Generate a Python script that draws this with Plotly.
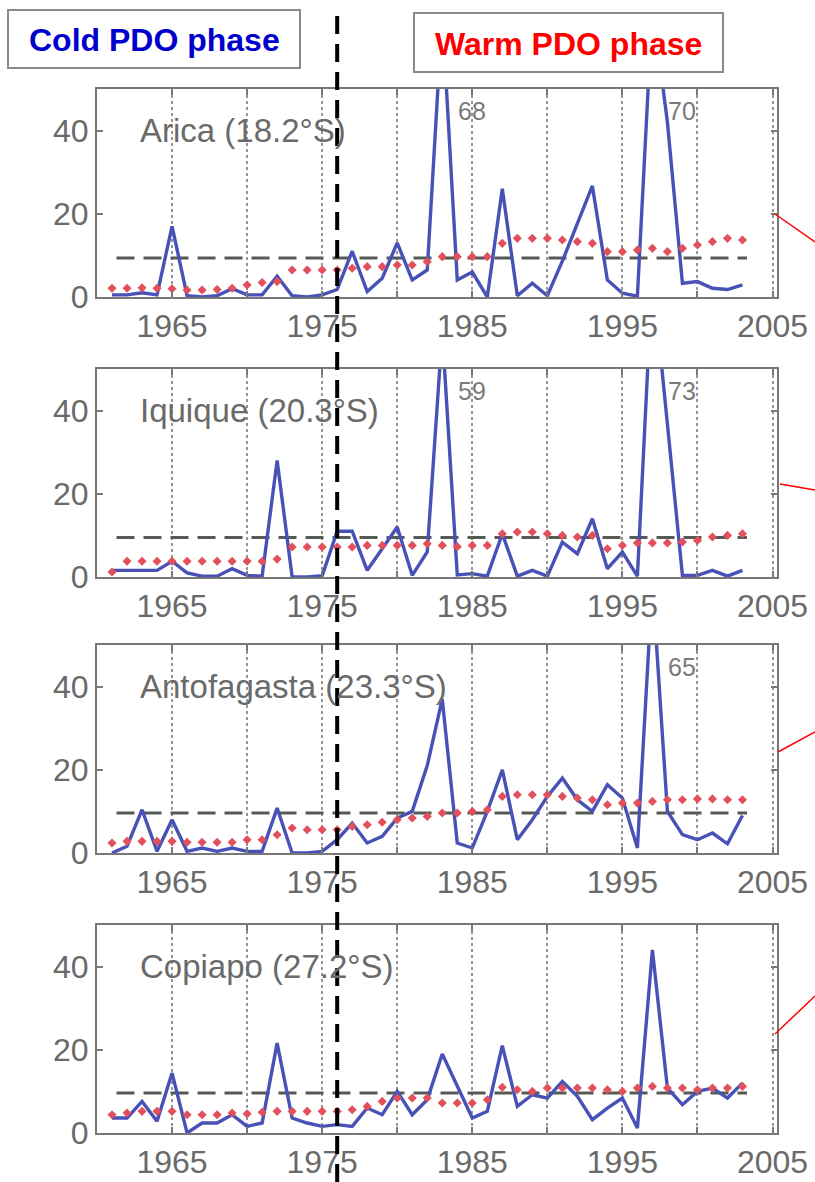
import plotly.graph_objects as go

# ---------------------------------------------------------------- data
years = list(range(1961, 2004))

stations = ["Arica (18.2°S)", "Iquique (20.3°S)", "Antofagasta (23.3°S)", "Copiapo (27.2°S)"]

annual_arica = [0.5, 0.5, 1.0, 0.5, 17, 0.3, 0, 0.3, 2.0, 0.5,
                0.5, 5.0, 0.3, 0, 0.5, 1.8, 11, 1.3, 4.5, 13,
                4.1, 6.5, 68, 4.1, 6.0, 0, 26, 0.3, 3.3, 0.3,
                8.6, 17.5, 26.7, 4.1, 0.9, 0.2, 70, 42, 3.3, 3.7,
                2.1, 1.8, 2.9]
annual_iquique = [1.6, 1.6, 1.6, 1.6, 3.8, 1.0, 0.2, 0.2, 2.0, 0.4,
                  0.2, 28, 0, 0, 0.3, 11, 11, 1.6, 6.8, 12,
                  0.4, 6, 59, 0.5, 0.8, 0.2, 10.4, 0.2, 1.6, 0.2,
                  8.4, 5.6, 14, 2.0, 6.0, 0.2, 73, 37, 0.4, 0.4,
                  1.6, 0.2, 1.6]
annual_antofagasta = [0, 1.6, 10.4, 0.4, 8, 0.4, 1.2, 0.4, 1.2, 0.4,
                      0.4, 10.8, 0, 0, 0.4, 3.2, 7.2, 2.4, 4.0, 8.4,
                      10, 21, 37, 2.4, 1.2, 10, 20, 3.2, 8, 13.6,
                      18, 12.8, 10, 16.4, 13.2, 1.2, 65, 10, 4.4, 3.2,
                      4.8, 2.2, 9]
annual_copiapo = [3.6, 3.6, 7.6, 2.8, 14.4, 0, 2.4, 2.4, 4.4, 1.6,
                  2.4, 21.6, 3.6, 2.4, 1.6, 2.0, 1.6, 6, 4.4, 10,
                  4.4, 8, 19, 11.5, 3.6, 5.2, 21, 6.4, 9.2, 8.4,
                  12.4, 8.8, 3.2, 6, 8.4, 1.2, 44, 10.8, 6.8, 10,
                  10.8, 8.4, 12]

running_arica = [2.1, 2.1, 2.2, 2.1, 2.0, 1.7, 1.7, 1.8, 2.1, 2.9,
                 3.5, 3.7, 6.5, 6.5, 6.5, 6.5, 6.9, 7.3, 7.3, 7.7,
                 7.7, 8.5, 9.7, 9.7, 9.7, 9.7, 12.9, 14.1, 14.1, 14.1,
                 13.7, 13.3, 12.9, 10.9, 10.9, 11.3, 11.7, 10.9, 11.7, 12.5,
                 13.3, 14.1, 13.7]
running_iquique = [1.2, 3.8, 3.8, 3.8, 3.8, 3.8, 3.8, 3.8, 3.8, 3.8,
                   3.8, 4.3, 7.2, 7.2, 7.2, 7.2, 7.2, 7.6, 7.6, 7.6,
                   7.6, 8.0, 7.6, 7.3, 7.6, 7.6, 10.4, 10.8, 10.8, 10.4,
                   10.0, 9.6, 10.0, 6.8, 7.6, 8.2, 8.2, 8.2, 8.4, 8.8,
                   9.6, 10.0, 10.4]
running_antofagasta = [2.4, 2.8, 2.8, 2.8, 2.8, 2.6, 2.6, 2.6, 2.6, 3.2,
                       3.2, 4.4, 6.0, 5.6, 5.6, 5.6, 6.4, 6.8, 7.4, 8.0,
                       8.4, 8.8, 9.6, 9.6, 10, 10.4, 13.6, 14, 14, 14,
                       13.6, 13.2, 12.8, 11.6, 12.0, 12.0, 12.4, 12.8, 12.8, 13.0,
                       13.0, 12.8, 12.8]
running_copiapo = [4.4, 4.8, 5.2, 5.2, 5.2, 4.4, 4.4, 4.4, 4.8, 4.6,
                   5.0, 5.2, 5.2, 5.2, 5.2, 5.2, 5.6, 6.4, 7.6, 8.4,
                   8.4, 8.4, 7.2, 7.2, 7.2, 8.0, 11.0, 10.4, 10.0, 10.8,
                   10.8, 10.8, 10.8, 10.4, 10.0, 10.8, 11.2, 10.8, 10.8, 10.4,
                   10.8, 10.8, 11.2]

mean_levels = [9.4, 9.5, 9.6, 9.6]
mean_span = [1961.3, 2003.3]

x_tickvals = [1965, 1970, 1975, 1980, 1985, 1990, 1995, 2000, 2005]
x_ticktext = ["1965", "", "1975", "", "1985", "", "1995", "", "2005"]
y_tickvals = [0, 20, 40]
y_ticktext = ["0", "20", "40"]

phase_labels = ["Cold PDO phase", "Warm PDO phase"]
regime_shift_year = 1976

annual = [annual_arica, annual_iquique, annual_antofagasta, annual_copiapo]
running = [running_arica, running_iquique, running_antofagasta, running_copiapo]

# ---------------------------------------------------------------- layout geometry
W, H = 815, 1182
X_RANGE = [1960, 2005.3]
Y_RANGE = [0, 50]
x_px = (97, 777)
panel_px = [(89, 297), (369, 577), (645, 853), (925, 1133)]


def px_x(x):
    return x / W


def px_y(y):
    return 1 - y / H


FONT = "Liberation Sans, Arial, sans-serif"
AXIS_GRAY = "#777777"
TEXT_GRAY = "#6a6a6a"
BLUE = "#4852b6"
PINK = "#e2515b"

fig = go.Figure()
layout = dict(
    width=W, height=H,
    margin=dict(l=0, r=0, t=0, b=0, autoexpand=False),
    paper_bgcolor="white", plot_bgcolor="white",
    showlegend=False,
    font=dict(family=FONT),
)
annotations = []
shapes = []

for i in range(4):
    n = "" if i == 0 else str(i + 1)
    xa, ya = "x" + n, "y" + n
    top, bot = panel_px[i]

    layout["xaxis" + n] = dict(
        domain=[px_x(x_px[0]), px_x(x_px[1])], range=X_RANGE, anchor=ya,
        automargin=False,
        tickmode="array", tickvals=x_tickvals, ticktext=x_ticktext,
        ticks="inside", ticklen=6, tickwidth=1.5, tickcolor=AXIS_GRAY,
        showline=True, linecolor=AXIS_GRAY, linewidth=2, mirror="ticks",
        showgrid=True, gridcolor="#959595", gridwidth=1.5, griddash="dot",
        zeroline=False, tickfont=dict(size=32, color=TEXT_GRAY, family=FONT),
        fixedrange=True,
    )
    layout["yaxis" + n] = dict(
        domain=[px_y(bot), px_y(top)], range=Y_RANGE, anchor=xa,
        automargin=False,
        tickmode="array", tickvals=y_tickvals, ticktext=y_ticktext,
        ticks="inside", ticklen=6, tickwidth=1.5, tickcolor=AXIS_GRAY,
        showline=True, linecolor=AXIS_GRAY, linewidth=2, mirror="ticks",
        showgrid=False, zeroline=False,
        tickfont=dict(size=32, color=TEXT_GRAY, family=FONT),
        fixedrange=True,
    )

    # long-term mean
    fig.add_trace(go.Scatter(
        x=mean_span, y=[mean_levels[i]] * 2, mode="lines",
        line=dict(color="#555a55", width=3, dash="18px,9px"),
        xaxis=xa, yaxis=ya, hoverinfo="skip"))
    # annual series
    fig.add_trace(go.Scatter(
        x=years, y=annual[i], mode="lines",
        line=dict(color=BLUE, width=3.4),
        xaxis=xa, yaxis=ya))
    # running mean
    fig.add_trace(go.Scatter(
        x=years, y=running[i], mode="markers",
        marker=dict(symbol="diamond", size=7, color=PINK),
        xaxis=xa, yaxis=ya))

    # station name
    annotations.append(dict(
        x=1962.7, y=40, xref=xa, yref=ya, xanchor="left", yanchor="middle",
        text=stations[i], showarrow=False,
        font=dict(size=33, color=TEXT_GRAY, family=FONT)))

    # values beyond the axis top
    for yr, v in zip(years, annual[i]):
        if v > Y_RANGE[1]:
            annotations.append(dict(
                x=yr + 2.0, y=44.7, xref=xa, yref=ya,
                xanchor="center", yanchor="middle",
                text=str(int(round(v))), showarrow=False,
                font=dict(size=25, color="#7a7a7a", family=FONT)))

# phase boxes
boxes = [(8, 10, 300, 68), (414, 13, 723, 72)]
box_colors = ["#0000cc", "#ff0000"]
for (x0, y0, x1, y1), col, label in zip(boxes, box_colors, phase_labels):
    shapes.append(dict(
        type="rect", xref="paper", yref="paper",
        x0=px_x(x0), x1=px_x(x1), y0=px_y(y1), y1=px_y(y0),
        line=dict(color="#8a8a8a", width=2), fillcolor="white", layer="above"))
    annotations.append(dict(
        x=px_x((x0 + x1) / 2), y=px_y((y0 + y1) / 2 + 1), xref="paper", yref="paper",
        xanchor="center", yanchor="middle", showarrow=False,
        text="<b>" + label + "</b>",
        font=dict(size=32, color=col, family=FONT)))

# regime-shift marker across all panels
frac = (regime_shift_year - X_RANGE[0]) / (X_RANGE[1] - X_RANGE[0])
shift_x = px_x(x_px[0]) + frac * (px_x(x_px[1]) - px_x(x_px[0]))
shapes.append(dict(
    type="line", xref="paper", yref="paper",
    x0=shift_x, x1=shift_x, y0=0, y1=px_y(10),
    line=dict(color="black", width=4, dash="18px,10px"), layer="above"))

# connector strokes leaving each panel to the right
connectors = [((775, 214), (815, 242)), ((780, 484), (815, 490)),
              ((778, 752), (815, 732)), ((775, 1034), (815, 996))]
for (ax, ay), (bx, by) in connectors:
    shapes.append(dict(
        type="line", xref="paper", yref="paper",
        x0=px_x(ax), y0=px_y(ay), x1=px_x(bx), y1=px_y(by),
        line=dict(color="#ff0000", width=1.5), layer="above"))

layout["annotations"] = annotations
layout["shapes"] = shapes
fig.update_layout(**layout)

fig.write_html("out.html")
